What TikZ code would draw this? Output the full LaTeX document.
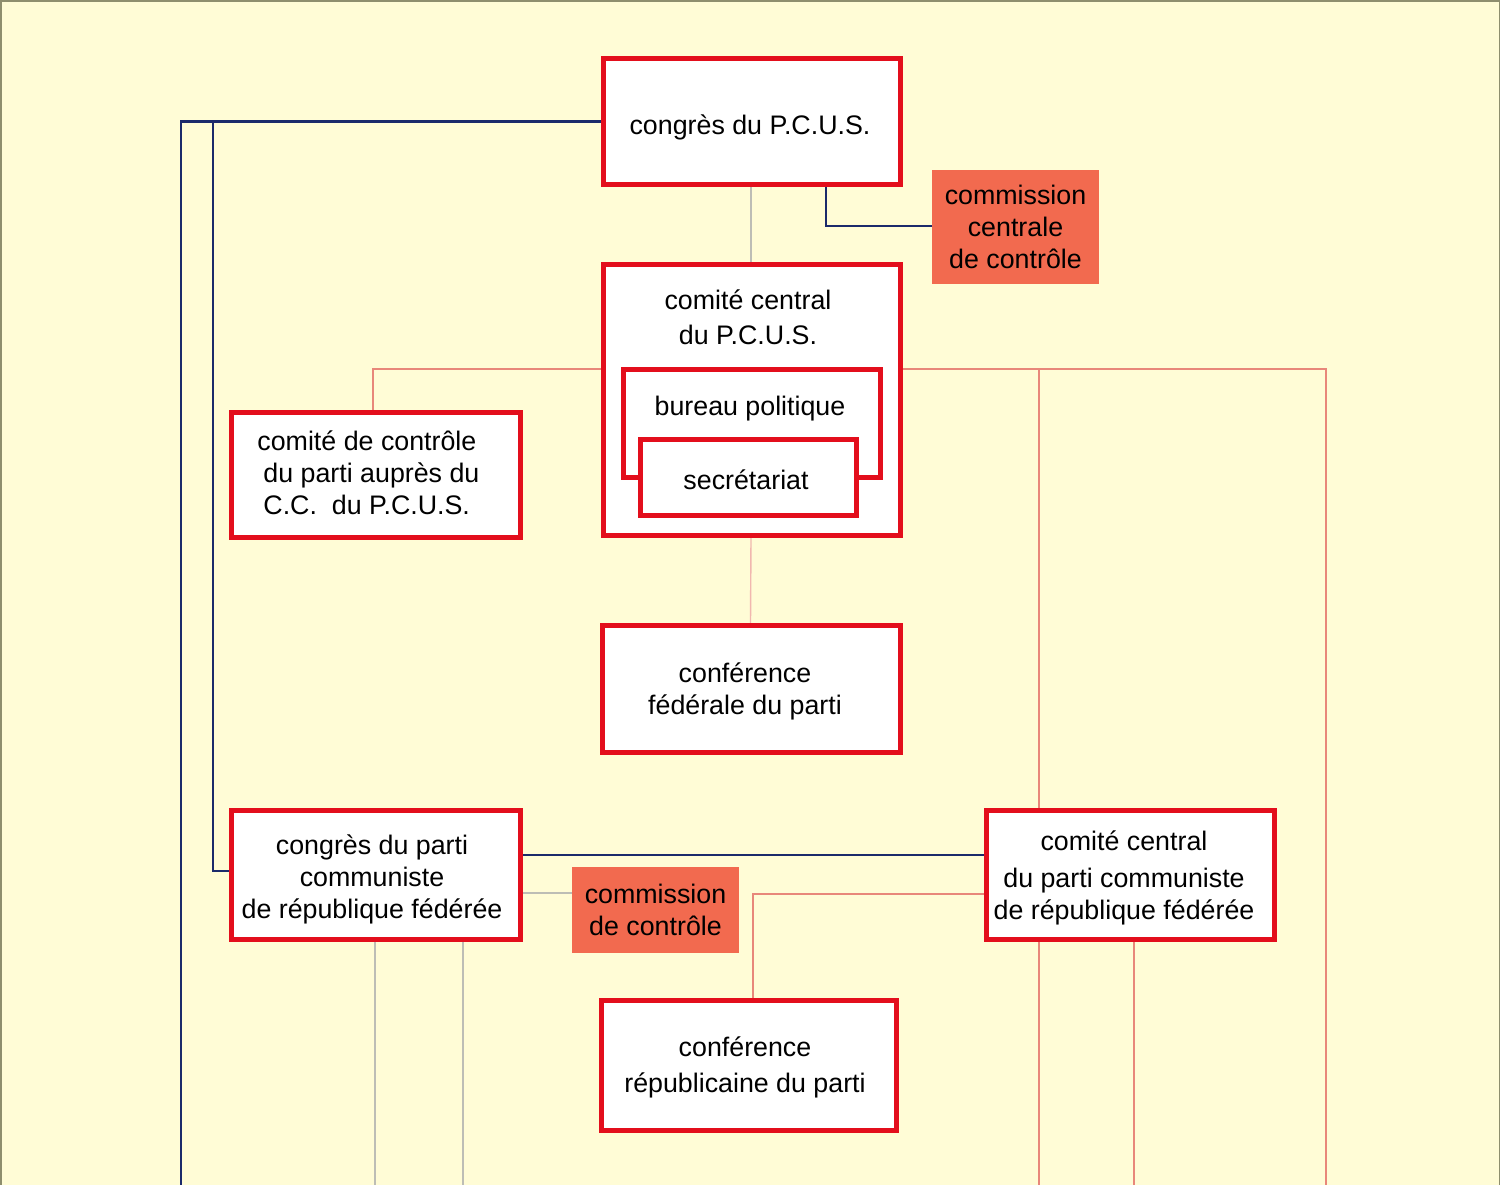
\documentclass[tikz,border=0pt]{standalone}
\usepackage{fontspec}
\setmainfont{Liberation Sans}
\usetikzlibrary{backgrounds}
\definecolor{bgc}{HTML}{FFFCD6}
\definecolor{redb}{HTML}{E30E1C}
\definecolor{orangef}{HTML}{F26A4F}
\definecolor{navyl}{HTML}{1B2A6B}
\definecolor{greyl}{HTML}{BDBDB5}
\definecolor{redl}{HTML}{E8877A}
\definecolor{edgec}{HTML}{8E8E6E}
\begin{document}
\begin{tikzpicture}[x=0.5pt,y=-0.5pt,
  redbox/.style={draw=redb,line width=2.5pt,fill=white,inner sep=0pt},
  orbox/.style={fill=orangef,inner sep=0pt,align=center,font=\fontsize{13.4}{16}\selectfont},
  txt/.style={inner sep=0pt,align=center,font=\fontsize{13.4}{16}\selectfont},
  navyline/.style={draw=navyl,line width=1.2pt},
  greyline/.style={draw=greyl,line width=0.8pt},
  redline/.style={draw=redl,line width=0.7pt}]
\useasboundingbox (0,0) rectangle (1500,1185);

\coordinate (bot) at (0,1185);
\coordinate (xa) at (181,0);
\coordinate (xb) at (213,0);
\coordinate (xr) at (1326,0);

% boxes
\node[redbox,minimum width=148.5pt,minimum height=63pt] (cpcus) at (752,121.5) {};
\node[txt] (cpcust) at (750,127.5) {congrès du P.C.U.S.};
\node[orbox,minimum width=83.5pt,minimum height=57pt] (ccc) at (1015.5,227) {commission\\centrale\\de contrôle};
\node[redbox,minimum width=148.5pt,minimum height=135.5pt] (ccpcus) at (752,400) {};
\node[txt] (cctitle) at (748,317) {comité central\\[1.5pt]du P.C.U.S.};
\node[redbox,minimum width=128.5pt,minimum height=54pt] (bp) at (751.5,423) {};
\node[txt] (bptxt) at (750,408.5) {bureau politique};
\node[redbox,minimum width=108pt,minimum height=38pt] (secr) at (748.5,477.5) {};
\node[txt] (secrt) at (746,479.5) {secrétariat};
\node[redbox,minimum width=144.5pt,minimum height=62.5pt] (cctrl) at (376,475) {};
\node[txt,align=left,anchor=west] (cctrltxt) at (257,473) {comité de contrôle\\\hspace{3pt}du parti auprès du\\\hspace{3pt}C.C.\ \ du P.C.U.S.};
\node[redbox,minimum width=149pt,minimum height=63.5pt] (cfed) at (751.5,689) {};
\node[txt] (cfedt) at (745,691) {conférence\\fédérale du parti};
\node[redbox,minimum width=144.5pt,minimum height=64.5pt] (cparti) at (376,875) {};
\node[txt] (cpartit) at (372,879) {congrès du parti\\communiste\\de république fédérée};
\node[redbox,minimum width=144pt,minimum height=64.5pt] (ccparti) at (1130.5,875) {};
\node[txt] (ccpartit) at (1124,878) {comité central\\[2.5pt]du parti communiste\\de république fédérée};
\node[orbox,minimum width=83.5pt,minimum height=43pt] (cctl) at (655.5,910) {commission\\de contrôle};
\node[redbox,minimum width=147.5pt,minimum height=65pt] (crep) at (749,1065.5) {};
\node[txt] (crept) at (745,1067) {conférence\\[2pt]républicaine du parti};

% connectors
\begin{scope}[on background layer]
\fill[bgc] (0,0) rectangle (1500,1185);
\draw[edgec,line width=1.5pt] (0,1185) -- (0,0) -- (1500,0) -- (1500,1185);
% navy
\draw[navyline] (cpcus.west) -| (xa |- bot);
\draw[navyline] (cpcus.west -| xb) |- ([yshift=2pt]cparti.west);
\draw[navyline] ([xshift=37pt]cpcus.south) |- ([yshift=0.5pt]ccc.west);
\draw[navyline] ([yshift=10pt]cparti.east) -- ([yshift=10pt]ccparti.west);
% grey
\draw[greyline] ([xshift=-0.5pt]cpcus.south) -- ([xshift=-0.5pt]ccpcus.north);
\draw[greyline] ([yshift=-9pt]cparti.east) -- ([yshift=-9pt]cparti.east -| cctl.west);
\draw[greyline] ([xshift=-0.5pt]cparti.south) -- ([xshift=-0.5pt]cparti.south |- bot);
\draw[greyline,line width=1.1pt] ([xshift=43.5pt]cparti.south) -- ([xshift=43.5pt]cparti.south |- bot);
% light red
\draw[redline] ([yshift=15.5pt]ccpcus.west) -| ([xshift=-1.5pt]cctrl.north);
\draw[redline] ([yshift=15.5pt]ccpcus.east) -| (xr |- bot);
\draw[redline] ([yshift=15.5pt]ccpcus.east -| ccparti.north) ++(-45.75pt,0) -- ([xshift=-45.75pt]ccparti.north);
\draw[redline,draw=redl!60] ([xshift=-0.5pt]ccpcus.south) -- ([xshift=-0.5pt]cfed.north);
\draw[redline] ([yshift=-9.5pt]ccparti.west) -| ([xshift=2pt]crep.north);
\draw[redline] ([xshift=-45.75pt]ccparti.south) -- ([xshift=-45.75pt]ccparti.south |- bot);
\draw[redline] ([xshift=1.75pt]ccparti.south) -- ([xshift=1.75pt]ccparti.south |- bot);
\end{scope}
\end{tikzpicture}
\end{document}
